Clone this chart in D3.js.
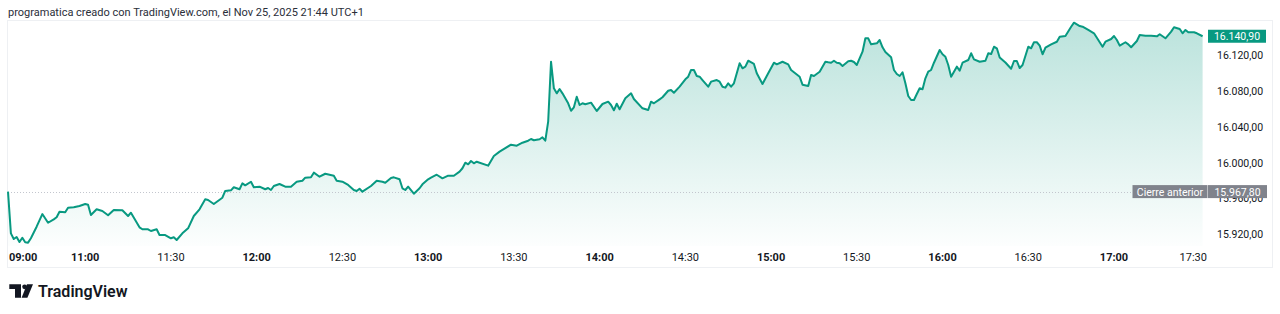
<!DOCTYPE html>
<html lang="es">
<head>
<meta charset="utf-8">
<title>programatica - TradingView</title>
<script src="https://cdn.jsdelivr.net/npm/d3@7"></script>
<style type="text/css">
body {
	margin: 0;
	background: #fff;
	font-family: Roboto, "Noto Sans", sans-serif;
}
</style>
</head>
<body>
<div id="vis"></div>
<script>

/* Data */
/* ==== */

var times = ['09:00','10:34','10:35','10:36','10:37','10:38','10:39','10:40','10:41','10:43','10:45','10:47','10:49','10:50','10:51','10:53','10:54','10:56','10:58',
	'11:00','11:01','11:02','11:04','11:06','11:08','11:10','11:13','11:15','11:16','11:19','11:20','11:22','11:23','11:25','11:26','11:28','11:30','11:31','11:32','11:34','11:36','11:38','11:40','11:42','11:43','11:45','11:48','11:49','11:51','11:52','11:54','11:55','11:56','11:58','11:59',
	'12:01','12:03','12:04','12:05','12:06','12:08','12:10','12:12','12:14','12:16','12:17','12:19','12:20','12:22','12:24','12:27','12:28','12:30','12:32','12:34','12:35','12:36','12:37','12:40','12:42','12:44','12:45','12:47','12:48','12:50','12:51','12:52','12:53','12:55','12:57','12:58',
	'13:00','13:01','13:03','13:05','13:07','13:09','13:11','13:12','13:13','13:14','13:15','13:16','13:17','13:21','13:23','13:25','13:26','13:29','13:31','13:33','13:35','13:36','13:37','13:39','13:40','13:41','13:42','13:43','13:44','13:45','13:46','13:47','13:49','13:50','13:51','13:52','13:53','13:54','13:55','13:57','13:59',
	'14:01','14:03','14:04','14:05','14:06','14:07','14:09','14:11','14:12','14:15','14:17','14:18','14:19','14:21','14:22','14:24','14:25','14:26','14:28','14:30','14:31','14:32','14:33','14:34','14:35','14:36','14:38','14:39','14:41','14:42','14:43','14:44','14:45','14:46','14:47','14:49','14:50','14:51','14:52','14:54','14:55','14:57','14:59',
	'15:01','15:02','15:04','15:06','15:07','15:10','15:11','15:13','15:14','15:15','15:17','15:19','15:20','15:21','15:22','15:23','15:24','15:25','15:27','15:28','15:29','15:30','15:32','15:33','15:34','15:35','15:37','15:38','15:39','15:40','15:42','15:43','15:44','15:45','15:46','15:47','15:48','15:49','15:50','15:51','15:52','15:53','15:54','15:55','15:56','15:57','15:59',
	'16:00','16:01','16:02','16:03','16:05','16:06','16:07','16:09','16:10','16:11','16:13','16:15','16:16','16:17','16:18','16:19','16:20','16:22','16:24','16:25','16:26','16:27','16:28','16:30','16:31','16:32','16:33','16:34','16:35','16:36','16:38','16:40','16:41','16:43','16:45','16:46','16:48','16:49','16:51','16:53','16:54','16:56','16:57','16:59',
	'17:00','17:01','17:02','17:04','17:05','17:06','17:08','17:09','17:11','17:13','17:15','17:16','17:18','17:20','17:21','17:23','17:24','17:25','17:26','17:28','17:29','17:31'];

var prices = [15967.8,15921.3,15915.0,15917.2,15911.6,15916.4,15911.3,15910.9,15915.8,15928.7,15942.8,15933.1,15936.9,15939.2,15945.4,15944.7,15949.9,15950.3,15951.8,
	15954.0,15953.2,15941.7,15948.1,15946.2,15941.4,15947.3,15947.0,15940.6,15944.3,15928.0,15925.8,15925.8,15923.9,15925.8,15919.4,15919.4,15915.8,15916.9,15913.9,15921.3,15926.9,15940.6,15948.1,15959.2,15958.4,15954.0,15961.0,15968.5,15969.2,15972.6,15970.4,15977.0,15974.8,15978.8,15972.6,
	15973.3,15970.4,15971.8,15969.6,15974.0,15976.3,15973.3,15973.3,15978.8,15979.9,15983.3,15983.7,15988.9,15984.4,15987.7,15985.5,15979.9,15978.8,15975.2,15969.6,15968.5,15971.0,15967.7,15974.0,15979.9,15978.8,15977.7,15983.0,15983.7,15981.5,15971.5,15969.6,15973.3,15965.5,15971.5,15975.9,
	15981.5,15983.3,15986.6,15982.6,15985.5,15985.5,15990.0,15993.8,16000.0,15998.2,16001.9,15999.3,16001.1,15996.7,16007.5,16012.3,16014.2,16020.1,16018.9,16022.3,16024.5,16026.4,16025.0,16026.1,16028.3,16024.5,16045.7,16112.5,16082.9,16077.3,16082.1,16077.3,16066.2,16057.9,16061.7,16073.5,16064.3,16066.2,16065.1,16066.9,16057.6,
	16065.4,16068.0,16064.3,16058.4,16065.7,16059.5,16071.8,16077.3,16071.0,16060.6,16058.7,16068.0,16066.2,16070.6,16072.9,16080.2,16081.0,16078.0,16084.7,16092.9,16095.8,16103.3,16103.3,16096.6,16095.8,16092.1,16084.7,16090.3,16092.1,16090.3,16084.7,16083.6,16088.5,16084.7,16088.5,16110.8,16105.2,16107.0,16113.6,16110.0,16099.6,16087.7,16099.6,
	16111.4,16109.6,16112.5,16109.6,16103.3,16095.8,16086.9,16085.5,16097.7,16096.6,16101.4,16112.5,16111.9,16111.4,16113.6,16111.4,16110.8,16107.7,16113.0,16113.6,16112.2,16108.9,16123.7,16138.6,16138.6,16131.9,16133.0,16136.7,16128.6,16123.3,16117.4,16103.3,16098.8,16096.6,16100.7,16088.5,16074.3,16069.9,16069.9,16076.5,16082.9,16081.8,16094.0,16101.4,16103.3,16111.4,16125.6,
	16120.8,16118.1,16108.9,16095.8,16107.0,16102.5,16111.4,16114.4,16121.9,16115.2,16112.5,16113.6,16121.9,16121.1,16129.2,16127.5,16117.2,16111.6,16104.7,16113.3,16113.3,16105.5,16108.9,16129.2,16127.5,16134.2,16134.2,16130.4,16120.8,16128.1,16131.9,16134.8,16140.4,16141.2,16151.5,16156.0,16152.3,16151.5,16147.9,16144.2,16139.3,16129.2,16134.8,16137.8,
	16141.2,16136.7,16130.4,16134.2,16131.9,16128.6,16135.6,16142.3,16141.5,16141.5,16140.8,16143.1,16138.6,16146.0,16150.9,16149.0,16144.2,16147.9,16145.3,16145.3,16144.2,16140.9];

var prevClose = 15967.8;

var priceTicks = [15920, 15960, 16000, 16040, 16080, 16120];

var timeTicks = ['09:00','11:00','11:30','12:00','12:30','13:00','13:30','14:00','14:30','15:00','15:30','16:00','16:30','17:00','17:30'];
var boldTicks = ['09:00','11:00','12:00','13:00','14:00','15:00','16:00','17:00'];

var headerText = 'programatica creado con TradingView.com, el Nov 25, 2025 21:44 UTC+1';
var prevCloseText = 'Cierre anterior';


/* Globals and SVG */
/* =============== */

var W = 1280, H = 314;
var frame = { left: 7.5, top: 20.5, right: 1272.5, bottom: 267.5 };
var plot = { left: 8, right: 1206, top: 21, bottom: 246 };
var green = '#089981';

var esES = d3.formatLocale({ decimal: ',', thousands: '.', grouping: [3], currency: ['', ''] });
var fmt = esES.format(',.2f');

function toMin(s) {
	var p = s.split(':');
	return +p[0] * 60 + +p[1];
}

var data = times.map(function(t, i) { return { t: toMin(t), v: prices[i] }; });

// index-like x axis: the gap between the open print and the rest is collapsed
var x = d3.scaleLinear()
	.domain([data[0].t, data[1].t, data[data.length - 1].t])
	.range([plot.left, plot.left + 2.9, 1202.6]);

var y = d3.scaleLinear()
	.domain([15920, 16120])
	.range([234.5, 55]);

var svg = d3.select('#vis')
	.append('svg')
		.attr('width', W)
		.attr('height', H)
		.style('display', 'block');


/* Functions */
/* ========= */

function drawFrame() {

	svg.append('text')
		.attr('x', 8)
		.attr('y', 16)
		.attr('font-size', 11)
		.attr('fill', '#2a2e39')
		.text(headerText);

	svg.append('rect')
		.attr('x', frame.left)
		.attr('y', frame.top)
		.attr('width', frame.right - frame.left)
		.attr('height', frame.bottom - frame.top)
		.attr('fill', 'none')
		.attr('stroke', '#eef0f3');

} // drawFrame()

function drawSeries() {

	var defs = svg.append('defs');

	var grad = defs.append('linearGradient')
		.attr('id', 'areaGrad')
		.attr('gradientUnits', 'userSpaceOnUse')
		.attr('x1', 0).attr('x2', 0)
		.attr('y1', plot.top).attr('y2', plot.bottom);
	grad.append('stop').attr('offset', 0).attr('stop-color', green).attr('stop-opacity', 0.28);
	grad.append('stop').attr('offset', 1).attr('stop-color', green).attr('stop-opacity', 0.01);

	var area = d3.area()
		.x(function(d) { return x(d.t); })
		.y0(plot.bottom)
		.y1(function(d) { return y(d.v); });

	var line = d3.line()
		.x(function(d) { return x(d.t); })
		.y(function(d) { return y(d.v); });

	svg.append('path')
		.datum(data)
		.attr('d', area)
		.attr('fill', 'url(#areaGrad)');

	// previous close, dotted
	svg.append('line')
		.attr('x1', plot.left).attr('x2', plot.right)
		.attr('y1', Math.round(y(prevClose)) + 0.5).attr('y2', Math.round(y(prevClose)) + 0.5)
		.attr('stroke', '#c3c6ce')
		.attr('stroke-dasharray', '1,2');

	svg.append('path')
		.datum(data)
		.attr('d', line)
		.attr('fill', 'none')
		.attr('stroke', green)
		.attr('stroke-width', 2)
		.attr('stroke-linejoin', 'round');

} // drawSeries()

function drawAxes() {

	// price scale
	var yAxis = d3.axisRight(y)
		.tickValues(priceTicks)
		.tickSize(0)
		.tickPadding(0)
		.tickFormat(fmt);

	var gy = svg.append('g')
		.attr('transform', 'translate(1217,0)')
		.call(yAxis);
	gy.select('.domain').remove();
	gy.selectAll('text')
		.attr('font-family', 'Roboto, sans-serif')
		.attr('font-size', 10.5)
		.attr('fill', '#131722');

	// time scale
	var gx = svg.append('g');
	gx.selectAll('text')
		.data(timeTicks)
		.enter()
		.append('text')
			.attr('x', function(d) { return x(toMin(d)); })
			.attr('y', 261)
			.attr('text-anchor', 'middle')
			.attr('font-size', 11)
			.attr('font-weight', function(d) { return boldTicks.indexOf(d) >= 0 ? 700 : 400; })
			.attr('fill', '#131722')
			.text(function(d) { return d; })
			.each(function() {
				// keep labels inside the pane
				var b = this.getBBox();
				if (b.x < plot.left + 1) d3.select(this).attr('x', +d3.select(this).attr('x') + (plot.left + 1 - b.x));
				if (b.x + b.width > plot.right + 1) d3.select(this).attr('x', +d3.select(this).attr('x') - (b.x + b.width - plot.right - 1));
			});

} // drawAxes()

function drawLabels() {

	var last = data[data.length - 1];

	// last price
	var yl = y(last.v);
	svg.append('rect')
		.attr('x', 1208).attr('y', yl - 6.5)
		.attr('width', 58).attr('height', 13)
		.attr('fill', green);
	svg.append('text')
		.attr('x', 1237).attr('y', yl + 4)
		.attr('text-anchor', 'middle')
		.attr('font-size', 10.5)
		.attr('fill', '#fff')
		.text(fmt(last.v));

	// previous close
	var yc = y(prevClose);
	svg.append('rect')
		.attr('x', 1132.5).attr('y', yc - 6.5)
		.attr('width', 75).attr('height', 13)
		.attr('fill', '#80838c');
	svg.append('text')
		.attr('x', 1170).attr('y', yc + 4)
		.attr('text-anchor', 'middle')
		.attr('font-size', 10.5)
		.attr('fill', '#fff')
		.text(prevCloseText);
	svg.append('rect')
		.attr('x', 1208).attr('y', yc - 6.5)
		.attr('width', 59).attr('height', 13)
		.attr('fill', '#80838c');
	svg.append('text')
		.attr('x', 1237.5).attr('y', yc + 4)
		.attr('text-anchor', 'middle')
		.attr('font-size', 10.5)
		.attr('fill', '#fff')
		.text(fmt(prevClose));

} // drawLabels()

function drawLogo() {

	var g = svg.append('g').attr('fill', '#131722');
	g.append('path').attr('d', 'M9.3,284.3H21V297.7H15V289H9.3Z');
	g.append('circle').attr('cx', 24.6).attr('cy', 286.8).attr('r', 2.4);
	g.append('path').attr('d', 'M27,284.3H33L27.4,297.7H21.6Z');

	svg.append('text')
		.attr('x', 38)
		.attr('y', 297)
		.attr('font-size', 16)
		.attr('font-weight', 600)
		.attr('fill', '#131722')
		.text('TradingView');

} // drawLogo()


/* Build */
/* ===== */

drawFrame();
drawSeries();
drawAxes();
drawLabels();
drawLogo();

</script>
</body>
</html>
